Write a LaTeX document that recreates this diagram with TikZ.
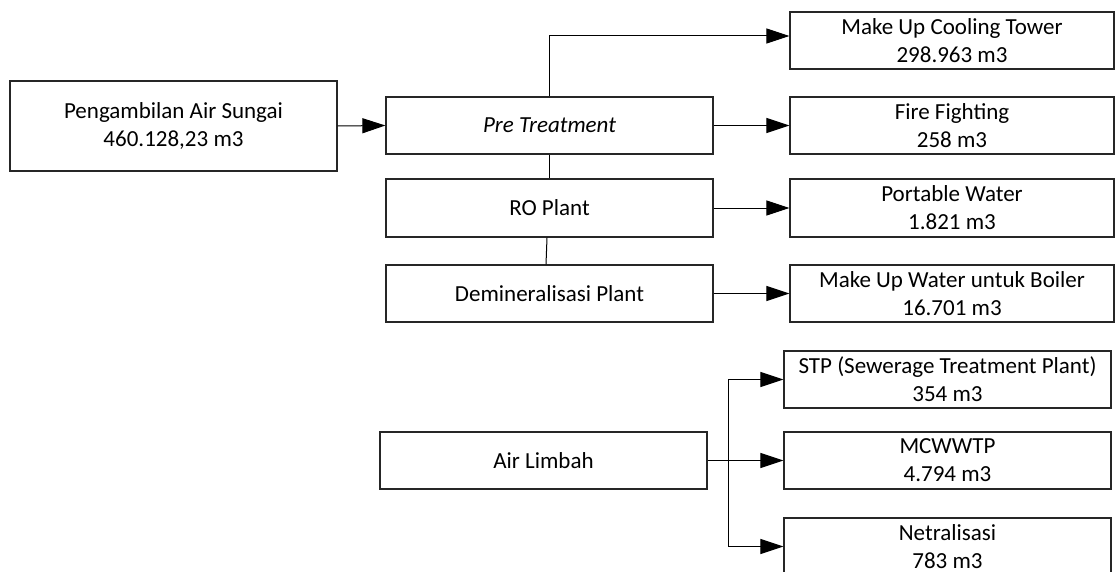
\documentclass[tikz,border=0pt]{standalone}
\usepackage{fontspec}
\setmainfont{Carlito}
\usetikzlibrary{arrows.meta}
\begin{document}
\begin{tikzpicture}[x=1pt,y=-1pt,
  box/.style={draw=black!85,line width=1.2pt,rectangle,inner sep=0pt,align=center,
    font=\fontsize{23}{28}\selectfont},
  wbox/.style={box,minimum width=327pt,minimum height=57pt},
  rbox/.style={box,minimum width=324pt,minimum height=57pt},
  conn/.style={draw=black,line width=1pt},
  arr/.style={conn,-{Triangle[length=23pt,width=15pt]}}]
\useasboundingbox (0,0) rectangle (1115,572);
% left
\node[box,minimum width=327pt,minimum height=90pt] (src) at (173.5,126) {Pengambilan Air Sungai\\460.128,23 m3};
\node[wbox] (pre) at (549.5,125.5) {\itshape Pre Treatment};
\node[wbox,minimum height=58pt] (ro) at (549.5,208) {RO Plant};
\node[wbox] (demin) at (549.5,293.5) {Demineralisasi Plant};
% right upper
\node[rbox] (muct) at (952,40.5) {Make Up Cooling Tower\\298.963 m3};
\node[rbox] (fire) at (952,125.5) {Fire Fighting\\258 m3};
\node[rbox,minimum height=58pt] (port) at (952,208) {Portable Water\\1.821 m3};
\node[rbox] (muwb) at (952,293.5) {Make Up Water untuk Boiler\\16.701 m3};
% lower
\node[wbox] (limbah) at (543.5,460.5) {Air Limbah};
\node[wbox] (stp) at (947.5,379.5) {STP (Sewerage Treatment Plant)\\354 m3};
\node[wbox] (mcw) at (947.5,460.5) {MCWWTP\\4.794 m3};
\node[wbox] (net) at (947.5,546.5) {Netralisasi\\783 m3};
% connectors
\draw[arr] (src.east) -- (pre.west);
\draw[arr] (pre.north) |- ([yshift=4.5pt]muct.west);
\draw[arr] (pre.east) -- (fire.west);
\draw[arr] (ro.east) -- (port.west);
\draw[arr] (demin.east) -- (muwb.west);
\draw[conn] (pre.south) -- (ro.north);
\draw[conn] ([xshift=-2.5pt]ro.south) -- ([xshift=-3.5pt]demin.north);
\coordinate (j) at (728,460.5);
\draw[arr] (limbah.east) -- (mcw.west);
\draw[arr] (j) |- (stp.west);
\draw[arr] (j) |- (net.west);
\end{tikzpicture}
\end{document}
